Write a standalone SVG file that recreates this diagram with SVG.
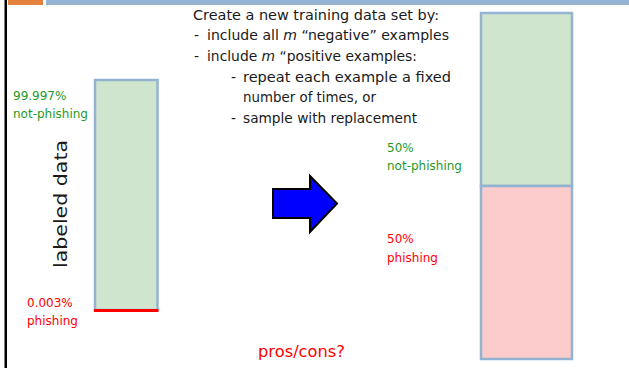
<svg xmlns="http://www.w3.org/2000/svg" width="629" height="368" viewBox="0 0 629 368">
<style>
.t{font-family:"DejaVu Sans","Liberation Sans",sans-serif;font-size:14px;fill:#1a1a1a}
.s{font-family:"DejaVu Sans","Liberation Sans",sans-serif;font-size:12px}
.g{fill:#1f9a1f}
.r{fill:#ff0000}
.bar{stroke:#94b3d3;stroke-width:2.5}
</style>
<rect width="629" height="368" fill="#ffffff"/>
<g id="frame">
<rect x="8" y="0" width="35" height="5" fill="#e4813f"/>
<rect x="46" y="0" width="583" height="5" fill="#95b3d3"/>
<rect x="4.5" y="0" width="2.5" height="368" fill="#000000"/>
</g>
<g id="instructions">
<text class="t" x="193" y="20" textLength="246" lengthAdjust="spacingAndGlyphs">Create a new training data set by:</text>
<text class="t" x="194" y="40">-</text>
<text class="t" x="207" y="40" textLength="242" lengthAdjust="spacingAndGlyphs">include all <tspan font-style="italic">m</tspan> “negative” examples</text>
<text class="t" x="194" y="61">-</text>
<text class="t" x="207" y="61" textLength="210" lengthAdjust="spacingAndGlyphs">include <tspan font-style="italic">m</tspan> “positive examples:</text>
<text class="t" x="231" y="82">-</text>
<text class="t" x="243" y="82" textLength="208" lengthAdjust="spacingAndGlyphs">repeat each example a fixed</text>
<text class="t" x="243" y="102" textLength="133" lengthAdjust="spacingAndGlyphs">number of times, or</text>
<text class="t" x="231" y="123">-</text>
<text class="t" x="243" y="123" textLength="174" lengthAdjust="spacingAndGlyphs">sample with replacement</text>
</g>
<g id="labeled-bar">
<rect class="bar" x="95" y="80" width="62.5" height="230" fill="#cfe5cd"/>
<line x1="94" y1="310.5" x2="158.5" y2="310.5" stroke="#ff0000" stroke-width="3"/>
</g>
<g id="labeled-text">
<text class="s g" x="13" y="100">99.997%</text>
<text class="s g" x="13" y="118">not-phishing</text>
<text class="s r" x="27" y="307">0.003%</text>
<text class="s r" x="27" y="325">phishing</text>
<text font-family="DejaVu Sans,Liberation Sans,sans-serif" font-size="17" fill="#1a1a1a" text-anchor="middle" textLength="128" lengthAdjust="spacingAndGlyphs" transform="translate(67,204) rotate(-90)">labeled data</text>
</g>
<g id="arrow">
<polygon points="273,189 310,189 310,176 337,203.5 310,232 310,218 273,218" fill="#0000ff" stroke="#000000" stroke-width="2"/>
</g>
<g id="balanced-bar">
<rect class="bar" x="481" y="13" width="91" height="173" fill="#cfe5cd"/>
<rect class="bar" x="481" y="186" width="91" height="173" fill="#fccccc"/>
</g>
<g id="balanced-text">
<text class="s g" x="387" y="152">50%</text>
<text class="s g" x="387" y="170">not-phishing</text>
<text class="s r" x="387" y="243">50%</text>
<text class="s r" x="387" y="262">phishing</text>
</g>
<text font-family="DejaVu Sans,Liberation Sans,sans-serif" font-size="15" fill="#ff0000" x="258" y="357" textLength="87" lengthAdjust="spacingAndGlyphs">pros/cons?</text>
</svg>
